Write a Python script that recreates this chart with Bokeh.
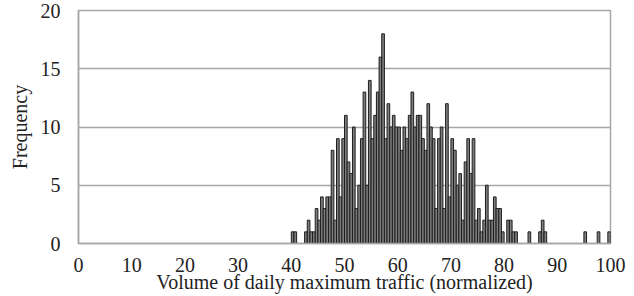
from bokeh.plotting import figure
from bokeh.models import ColumnDataSource, FixedTicker
from bokeh.embed import file_html
from bokeh.resources import INLINE

# Histogram bins (left edge, width 0.5) with nonzero counts
bin_left = [40.0, 40.5, 42.5, 43.0, 43.5, 44.0, 44.5, 45.0, 45.5, 46.0, 46.5, 47.0, 47.5,
            48.0, 48.5, 49.0, 49.5, 50.0, 50.5, 51.0, 51.5, 52.0, 52.5, 53.0, 53.5, 54.0,
            54.5, 55.0, 55.5, 56.0, 56.5, 57.0, 57.5, 58.0, 58.5, 59.0, 59.5, 60.0, 60.5,
            61.0, 61.5, 62.0, 62.5, 63.0, 63.5, 64.0, 64.5, 65.0, 65.5, 66.0, 66.5, 67.0,
            67.5, 68.0, 68.5, 69.0, 69.5, 70.0, 70.5, 71.0, 71.5, 72.0, 72.5, 73.0, 73.5,
            74.0, 74.5, 75.0, 75.5, 76.0, 76.5, 77.0, 77.5, 78.0, 78.5, 79.0, 79.5, 80.5,
            81.0, 81.5, 82.0, 84.5, 86.5, 87.0, 87.5, 95.0, 97.5, 99.5]
counts = [1, 1, 1, 2, 1, 1, 3, 2, 4, 3, 4, 4, 8,
          2, 9, 4, 9, 11, 7, 6, 10, 3, 5, 9, 13, 5,
          14, 9, 11, 13, 16, 18, 9, 12, 10, 11, 10, 10, 8,
          10, 9, 11, 13, 10, 11, 11, 9, 8, 12, 10, 9, 3,
          9, 10, 3, 12, 4, 9, 8, 5, 6, 2, 7, 9, 6,
          9, 2, 3, 1, 2, 5, 2, 2, 4, 3, 3, 1, 2,
          2, 1, 1, 1, 1, 2, 1, 1, 1, 1]
bin_width = 0.5
x_ticks = [0, 10, 20, 30, 40, 50, 60, 70, 80, 90, 100]
y_ticks = [0, 5, 10, 15, 20]

src = ColumnDataSource(dict(
    left=bin_left,
    right=[b + bin_width for b in bin_left],
    top=counts,
))

FONT = "Liberation Serif"
GRID = "#a6a6a6"
TXT = "#222222"

p = figure(width=634, height=296, output_backend="svg", toolbar_location=None,
           x_range=(0, 100), y_range=(0, 20),
           min_border_left=78, min_border_right=24, min_border_top=10, min_border_bottom=53)

p.quad(left="left", right="right", bottom=0, top="top", source=src,
       fill_color="#7d7d7d", line_color="#1e1e1e", line_width=1)

p.xaxis.ticker = FixedTicker(ticks=x_ticks)
p.yaxis.ticker = FixedTicker(ticks=y_ticks)
p.xgrid.grid_line_color = None
p.ygrid.grid_line_color = GRID
p.ygrid.grid_line_width = 1.5

for ax in (p.xaxis, p.yaxis):
    ax.axis_line_color = GRID
    ax.axis_line_width = 1.5
    ax.major_tick_line_color = None
    ax.minor_tick_line_color = None
    ax.major_tick_out = 0
    ax.major_tick_in = 0
    ax.major_label_text_font = FONT
    ax.major_label_text_font_size = "20px"
    ax.major_label_text_color = TXT
    ax.axis_label_text_font = FONT
    ax.axis_label_text_font_size = "20px"
    ax.axis_label_text_font_style = "normal"
    ax.axis_label_text_color = TXT

p.xaxis.axis_label = "Volume of daily maximum traffic (normalized)"
p.yaxis.axis_label = "Frequency"
p.xaxis.major_label_standoff = 14
p.xaxis.axis_label_standoff = -4
p.yaxis.major_label_standoff = 18
p.yaxis.axis_label_standoff = 7

p.outline_line_color = GRID
p.outline_line_width = 1.5
p.background_fill_color = "white"
p.border_fill_color = "white"

open("out.html", "w").write(file_html(p, INLINE))
